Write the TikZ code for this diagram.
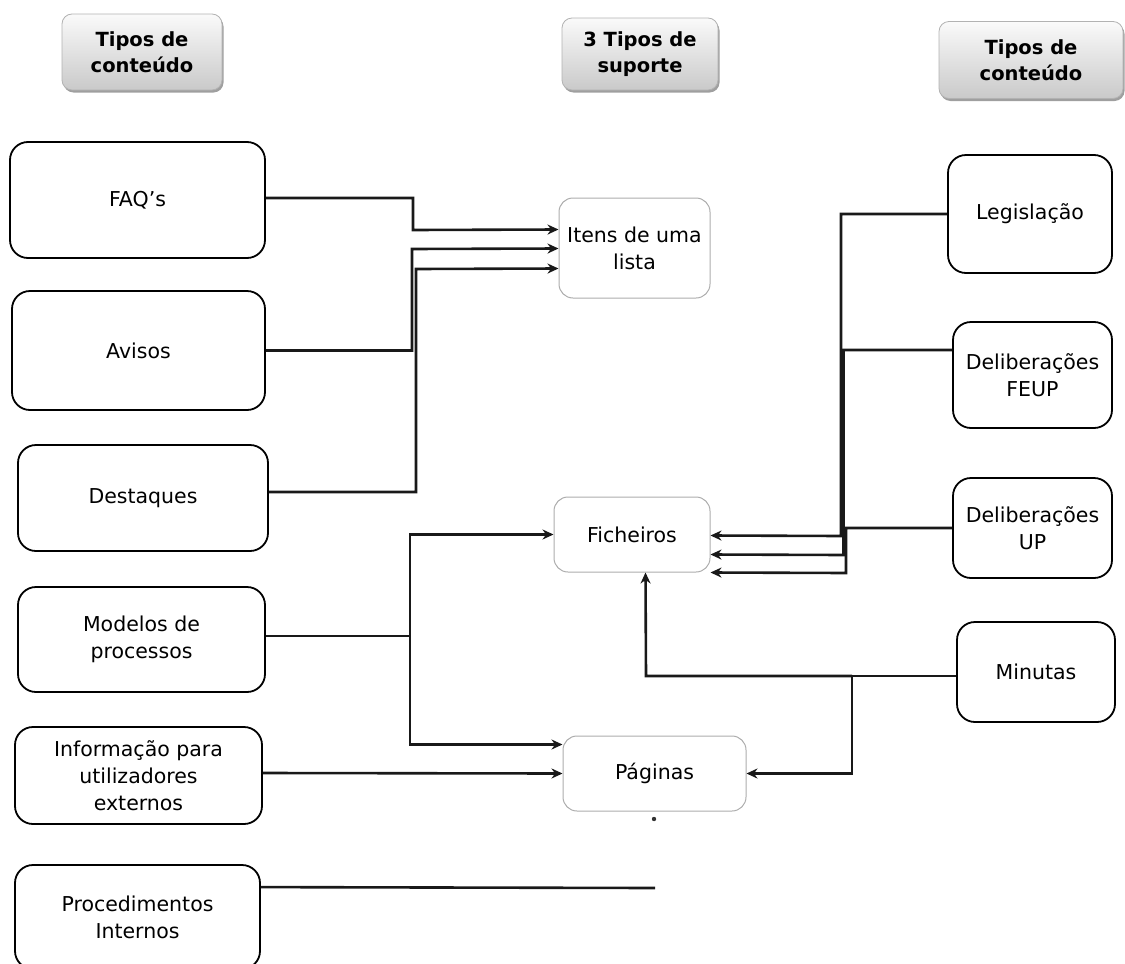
\documentclass[tikz,border=0pt]{standalone}
\usepackage{fontspec}
\setmainfont{DejaVu Sans}
\usetikzlibrary{arrows.meta,calc,shadows}
\begin{document}
\begin{tikzpicture}[x=1pt,y=-1pt,
  every node/.style={font=\fontsize{20.5}{27}\selectfont, align=center, inner sep=0pt},
  sidebox/.style={draw=black, line width=1.8pt, rounded corners=18pt},
  midbox/.style={draw=gray!65, line width=1pt, rounded corners=14pt},
  hdrbox/.style={draw=gray!60, line width=0.8pt, rounded corners=10pt,
    top color=gray!4, bottom color=gray!42,
    drop shadow={shadow xshift=1.5pt, shadow yshift=-2.5pt, fill=gray!75, opacity=1},
    font=\fontsize{19.5}{26}\selectfont\bfseries},
  conn/.style={line width=2.6pt, draw=black!90},
  arr/.style={conn, -{Stealth[length=11pt,width=10pt]}}
]
\useasboundingbox (0,0) rectangle (1125,964);

% column headers
\node[hdrbox, minimum width=160pt, minimum height=76pt] (h1) at (142,52) {Tipos de\\conteúdo};
\node[hdrbox, minimum width=156pt, minimum height=72pt] (h2) at (640,54) {3 Tipos de\\suporte};
\node[hdrbox, minimum width=184pt, minimum height=77pt] (h3) at (1031,60) {Tipos de\\conteúdo};

% content types on the left
\node[sidebox, minimum width=255pt, minimum height=116pt] (faq) at (137.5,200) {FAQ’s};
\node[sidebox, minimum width=253pt, minimum height=119pt] (avi) at (138.5,350.5) {Avisos};
\node[sidebox, minimum width=250pt, minimum height=106pt] (des) at (143,498) {Destaques};
\node[sidebox, minimum width=247pt, minimum height=105pt] (mod) at (141.5,639.5) {Modelos de\\processos};
\node[sidebox, minimum width=247pt, minimum height=97pt] (inf) at (138.5,775.5) {Informação para\\utilizadores\\externos};
\node[sidebox, minimum width=245pt, minimum height=104pt] (proc) at (137.5,917) {Procedimentos\\Internos};

% supports in the middle
\node[midbox, minimum width=151pt, minimum height=100pt] (ite) at (634.5,248) {Itens de uma\\lista};
\node[midbox, minimum width=156pt, minimum height=75pt] (fic) at (632,534.5) {Ficheiros};
\node[midbox, minimum width=183pt, minimum height=75pt] (pag) at (654.5,773.5) {Páginas};
\fill[black!80] (654,819) circle (2.2pt);

% content types on the right
\node[sidebox, minimum width=164pt, minimum height=118pt] (leg) at (1030,214) {Legislação};
\node[sidebox, minimum width=159pt, minimum height=106pt] (feup) at (1032.5,375) {Deliberações\\FEUP};
\node[sidebox, minimum width=159pt, minimum height=100pt] (up) at (1032.5,528) {Deliberações\\UP};
\node[sidebox, minimum width=158pt, minimum height=100pt] (min) at (1036,672) {Minutas};

% left side to lists
\draw[arr] ($(faq.east)+(0,-2)$) -| (413,230) -- ($(ite.north west)+(0,32)$);
\draw[arr] (avi.east) -| (412,249) -- ($(ite.north west)+(0,51)$);
\draw[arr] ($(des.east)+(0,-6)$) -| (416,269) -- ($(ite.north west)+(0,71)$);

% process models and external information
\coordinate (mj) at (410,636);
\draw[conn] ($(mod.east)+(0,-3.5)$) -- (mj);
\draw[arr] (mj) |- (fic.west);
\draw[arr] (mj) |- ($(pag.north west)+(0,9)$);
\draw[arr] ($(inf.east)+(0,-2.5)$) -- (pag.west);

% internal procedures
\coordinate (pend) at (655,888);
\draw[conn] ($(proc.north east)+(0,23)$) -- (pend);

% right side to files
\draw[arr] (leg.west) -| (841,536) -- ($(fic.north east)+(0,39)$);
\draw[arr] ($(feup.west)+(0,-25)$) -| (843.5,555) -- ($(fic.north east)+(0,58)$);
\draw[arr] (up.west) -| (846,573) -- ($(fic.north east)+(0,76)$);

% minutes to files and pages
\coordinate (mn) at (852,676);
\draw[conn] ($(min.west)+(0,4)$) -- (mn);
\draw[arr] (mn) -- (646,676) -- ($(fic.south west)+(92,0)$);
\draw[arr] (mn) |- (pag.east);
\end{tikzpicture}
\end{document}
